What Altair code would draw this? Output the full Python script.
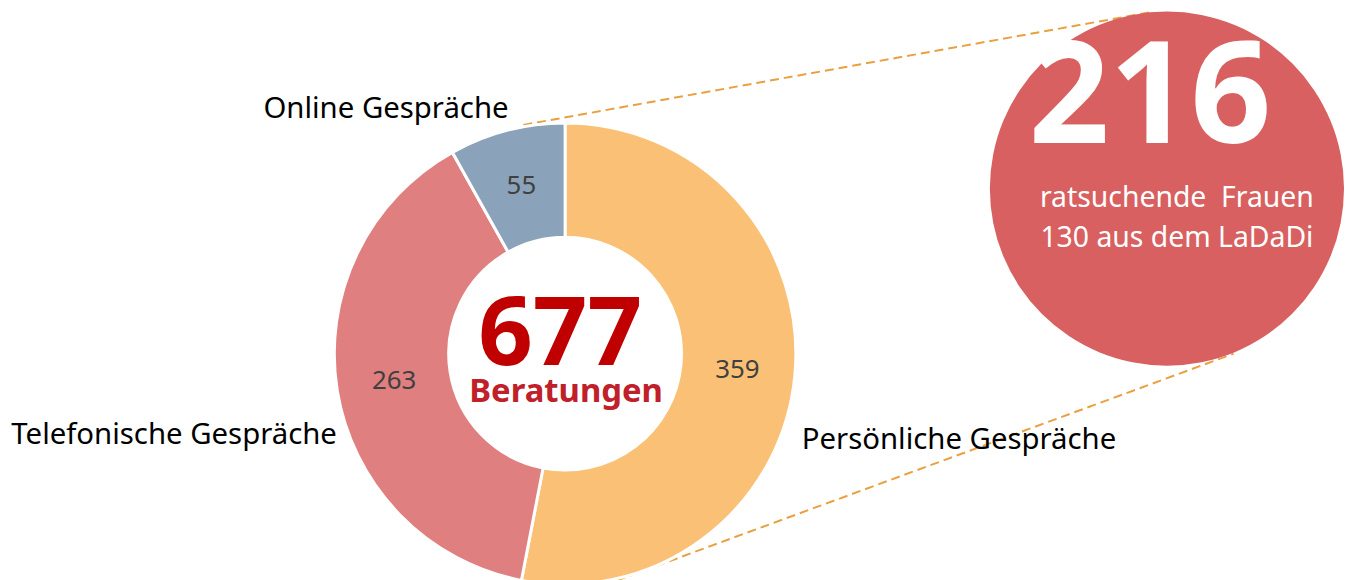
import altair as alt
import pandas as pd

# ---- data ----
categories = ["Persönliche Gespräche", "Telefonische Gespräche", "Online Gespräche"]
values = [359, 263, 55]
colors = ["#FAC075", "#E07F7F", "#8BA3BA"]
total_label = "677"
total_sub = "Beratungen"
women_count = "216"
women_line1 = "ratsuchende\u00a0 Frauen"
women_line2 = "130 aus dem LaDaDi"

df = pd.DataFrame({"cat": categories, "value": values, "idx": list(range(len(categories)))})

W, H = 1336, 564
CX, CY = 560, 346
FONT = "Noto Sans"

theta = alt.Theta("value:Q", stack=True)
color = alt.Color("cat:N", scale=alt.Scale(domain=categories, range=colors), legend=None)
order = alt.Order("idx:Q")


def one():
    return alt.Chart(pd.DataFrame({"a": [0]}))


def text_layer(txt, x, y, size, col="#000000", weight="normal", align="center"):
    return alt.Chart(pd.DataFrame({"t": [txt]})).mark_text(
        font=FONT, fontSize=size, fontWeight=weight, color=col, align=align, baseline="alphabetic"
    ).encode(text="t:N", x=alt.value(x), y=alt.value(y))


def dash(x1, y1, x2, y2):
    return one().mark_rule(color="#E8A040", strokeWidth=2, strokeDash=[9, 5]).encode(
        x=alt.value(x1), y=alt.value(y1), x2=alt.value(x2), y2=alt.value(y2)
    )


lines = dash(518, 116, 1147, 3) + dash(612, 574, 1232, 346)

bubble = one().mark_circle(size=(2 * 178) ** 2, color="#D86060", opacity=1).encode(
    x=alt.value(1165), y=alt.value(180)
)

arcs = alt.Chart(df).mark_arc(outerRadius=232, innerRadius=117, stroke="white", strokeWidth=3).encode(
    theta=theta, color=color, order=order, x=alt.value(CX), y=alt.value(CY)
)
nums = alt.Chart(df).mark_text(radius=174, font=FONT, fontSize=26, color="#404040").encode(
    theta=theta, order=order, text="value:Q", x=alt.value(CX), y=alt.value(CY)
)

labels = (
    text_layer(categories[2], 380, 109, 29.5)
    + text_layer(categories[1], 167, 437, 29.5)
    + text_layer(categories[0], 956, 442, 29.5)
)

center = text_layer(total_label, 555, 357, 96, "#C00000", "bold") + text_layer(
    total_sub, 561, 395, 33, "#C0202A", "bold"
)

bubble_text = (
    text_layer(women_count, 1148, 134, 142, "#FFFFFF", "bold")
    + text_layer(women_line1, 1175, 199, 28.5, "#FFFFFF")
    + text_layer(women_line2, 1175, 239, 28.5, "#FFFFFF")
)

chart = (
    alt.layer(lines, bubble, arcs, nums, labels, center, bubble_text)
    .properties(width=W, height=H, padding=0)
    .configure_view(stroke=None)
)

chart.save("out.html", embed_options={"renderer": "svg", "actions": False})
